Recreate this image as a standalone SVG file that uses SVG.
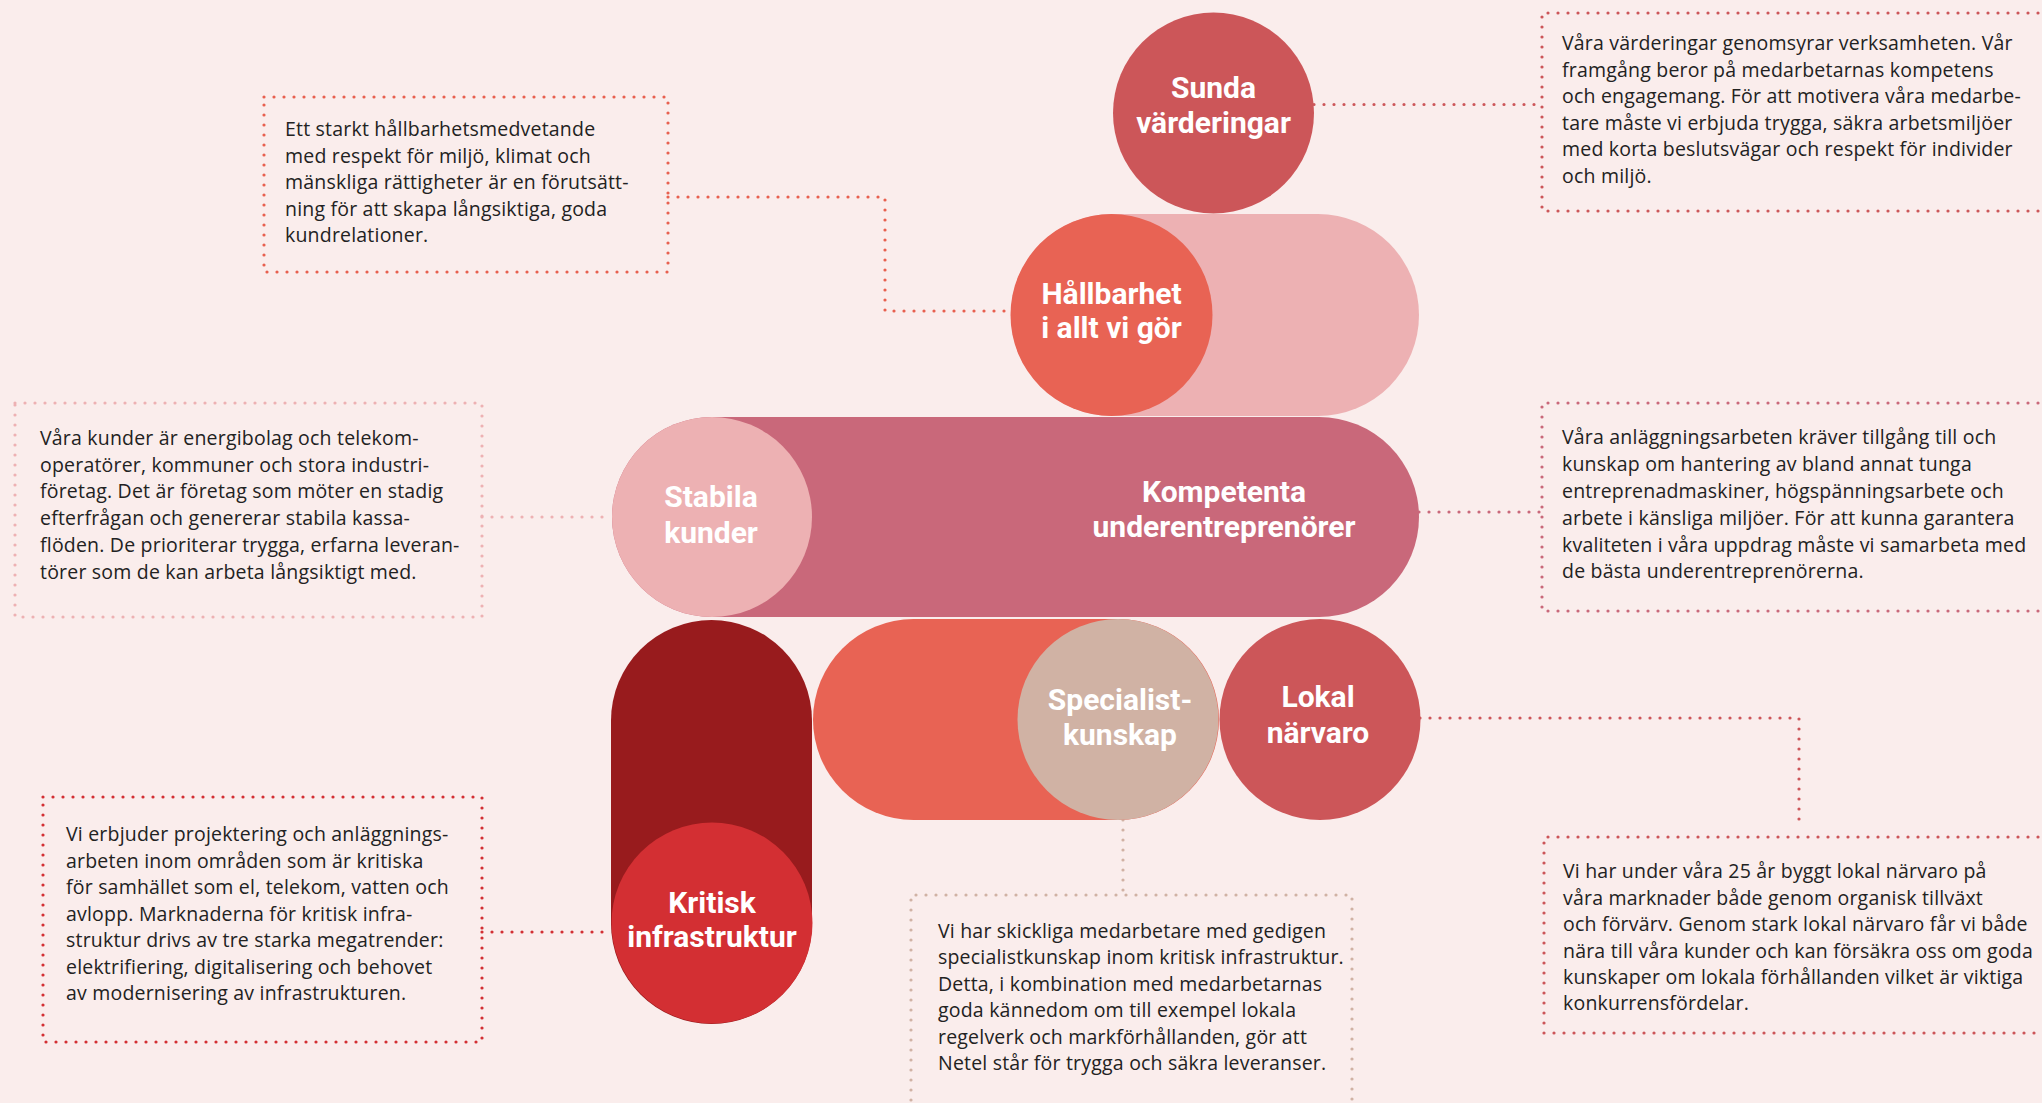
<svg xmlns="http://www.w3.org/2000/svg" width="2042" height="1103" viewBox="0 0 2042 1103">
<style>
.lbl{font-family:Roboto,"Liberation Sans",sans-serif;font-weight:700;font-size:30px;fill:#ffffff;text-anchor:middle}
.body{font-family:"Open Sans","Noto Sans","Liberation Sans",sans-serif;font-size:19.5px;letter-spacing:0.2px;fill:#222222}
.dot{fill:none;stroke-width:3.2;stroke-linecap:round;stroke-dasharray:0 10}
.c-red{stroke:#CC5659}
.c-org{stroke:#E8604F}
.c-pink{stroke:#EDB1B3}
.c-mauve{stroke:#C9687A}
.c-crit{stroke:#D32F33}
.c-tan{stroke:#D0B2A4}
</style>
<rect width="2042" height="1103" fill="#FAEDEC"/>

<g id="connectors">
  <polyline class="dot c-red" points="1314,104.5 1542,104.5"/>
  <polyline class="dot c-org" points="668,197 885,197 885,311 1011,311"/>
  <polyline class="dot c-pink" points="482,517 612,517"/>
  <polyline class="dot c-mauve" points="1419,512 1542,512"/>
  <polyline class="dot c-crit" points="482,932 611,932"/>
  <polyline class="dot c-tan" points="1123,820 1123,895"/>
  <polyline class="dot c-red" points="1420,718 1799,718 1799,822"/>
</g>

<g id="bar-hallbarhet"><rect x="1011" y="214" width="408" height="202" rx="101" fill="#EDB1B3"/></g>
<g id="node-kompetenta">
  <rect x="612" y="417" width="807" height="200" rx="100" fill="#C9687A"/>
  <text class="lbl" x="1224" y="502">Kompetenta</text>
  <text class="lbl" x="1224" y="537">underentreprenörer</text>
</g>
<g id="node-sunda">
  <circle cx="1213.5" cy="113" r="100.5" fill="#CC5659"/>
  <text class="lbl" x="1213.5" y="98">Sunda</text>
  <text class="lbl" x="1213.5" y="133">värderingar</text>
</g>
<g id="node-hallbarhet">
  <circle cx="1111.5" cy="315" r="101" fill="#E86354"/>
  <text class="lbl" x="1111.5" y="304">Hållbarhet</text>
  <text class="lbl" x="1111.5" y="338">i allt vi gör</text>
</g>
<g id="node-stabila">
  <circle cx="712" cy="517" r="100" fill="#EDB1B3"/>
  <text class="lbl" x="711" y="507">Stabila</text>
  <text class="lbl" x="711" y="543">kunder</text>
</g>
<g id="node-kritisk">
  <rect x="611" y="620" width="201" height="404" rx="100.5" fill="#981B1D"/>
  <circle cx="712" cy="923" r="100.5" fill="#D32F33"/>
  <text class="lbl" x="712" y="913">Kritisk</text>
  <text class="lbl" x="712" y="947">infrastruktur</text>
</g>
<g id="node-specialist">
  <rect x="813" y="619" width="406" height="201" rx="100.5" fill="#E86354"/>
  <circle cx="1118" cy="719.5" r="100.5" fill="#D0B2A4"/>
  <text class="lbl" x="1120" y="710">Specialist-</text>
  <text class="lbl" x="1120" y="745">kunskap</text>
</g>
<g id="node-lokal">
  <circle cx="1320" cy="719.5" r="100.5" fill="#CC5659"/>
  <text class="lbl" x="1318" y="707">Lokal</text>
  <text class="lbl" x="1318" y="743">närvaro</text>
</g>

<g id="box-hallbarhet">
  <rect class="dot c-org" x="264" y="97" width="404" height="175"/>
  <text class="body" x="285" y="136">Ett starkt hållbarhetsmedvetande</text>
  <text class="body" x="285" y="162.5">med respekt för miljö, klimat och</text>
  <text class="body" x="285" y="189">mänskliga rättigheter är en förutsätt-</text>
  <text class="body" x="285" y="215.5">ning för att skapa långsiktiga, goda</text>
  <text class="body" x="285" y="242">kundrelationer.</text>
</g>
<g id="box-sunda">
  <polyline class="dot c-red" points="2048,13 1542,13 1542,211 2048,211"/>
  <text class="body" x="1562" y="50">Våra värderingar genomsyrar verksamheten. Vår</text>
  <text class="body" x="1562" y="76.5">framgång beror på medarbetarnas kompetens</text>
  <text class="body" x="1562" y="103">och engagemang. För att motivera våra medarbe-</text>
  <text class="body" x="1562" y="129.5">tare måste vi erbjuda trygga, säkra arbetsmiljöer</text>
  <text class="body" x="1562" y="156">med korta beslutsvägar och respekt för individer</text>
  <text class="body" x="1562" y="182.5">och miljö.</text>
</g>
<g id="box-stabila">
  <rect class="dot c-pink" x="15" y="403" width="467" height="214"/>
  <text class="body" x="40" y="445">Våra kunder är energibolag och telekom-</text>
  <text class="body" x="40" y="471.7">operatörer, kommuner och stora industri-</text>
  <text class="body" x="40" y="498.3">företag. Det är företag som möter en stadig</text>
  <text class="body" x="40" y="525">efterfrågan och genererar stabila kassa-</text>
  <text class="body" x="40" y="552">flöden. De prioriterar trygga, erfarna leveran-</text>
  <text class="body" x="40" y="579">törer som de kan arbeta långsiktigt med.</text>
</g>
<g id="box-kompetenta">
  <polyline class="dot c-mauve" points="2048,403 1542,403 1542,611 2048,611"/>
  <text class="body" x="1562" y="444.3">Våra anläggningsarbeten kräver tillgång till och</text>
  <text class="body" x="1562" y="471">kunskap om hantering av bland annat tunga</text>
  <text class="body" x="1562" y="498">entreprenadmaskiner, högspänningsarbete och</text>
  <text class="body" x="1562" y="525">arbete i känsliga miljöer. För att kunna garantera</text>
  <text class="body" x="1562" y="551.5">kvaliteten i våra uppdrag måste vi samarbeta med</text>
  <text class="body" x="1562" y="578">de bästa underentreprenörerna.</text>
</g>
<g id="box-kritisk">
  <rect class="dot c-crit" x="43" y="797" width="439" height="245"/>
  <text class="body" x="66" y="841">Vi erbjuder projektering och anläggnings-</text>
  <text class="body" x="66" y="867.5">arbeten inom områden som är kritiska</text>
  <text class="body" x="66" y="894">för samhället som el, telekom, vatten och</text>
  <text class="body" x="66" y="920.5">avlopp. Marknaderna för kritisk infra-</text>
  <text class="body" x="66" y="947">struktur drivs av tre starka megatrender:</text>
  <text class="body" x="66" y="973.5">elektrifiering, digitalisering och behovet</text>
  <text class="body" x="66" y="1000">av modernisering av infrastrukturen.</text>
</g>
<g id="box-specialist">
  <polyline class="dot c-tan" points="911,1110 911,895 1352,895 1352,1110"/>
  <text class="body" x="938" y="938">Vi har skickliga medarbetare med gedigen</text>
  <text class="body" x="938" y="964">specialistkunskap inom kritisk infrastruktur.</text>
  <text class="body" x="938" y="990.5">Detta, i kombination med medarbetarnas</text>
  <text class="body" x="938" y="1017">goda kännedom om till exempel lokala</text>
  <text class="body" x="938" y="1043.5">regelverk och markförhållanden, gör att</text>
  <text class="body" x="938" y="1070">Netel står för trygga och säkra leveranser.</text>
</g>
<g id="box-lokal">
  <polyline class="dot c-red" points="2048,837 1544,837 1544,1033 2048,1033"/>
  <text class="body" x="1563" y="878">Vi har under våra 25 år byggt lokal närvaro på</text>
  <text class="body" x="1563" y="904.5">våra marknader både genom organisk tillväxt</text>
  <text class="body" x="1563" y="931">och förvärv. Genom stark lokal närvaro får vi både</text>
  <text class="body" x="1563" y="957.5">nära till våra kunder och kan försäkra oss om goda</text>
  <text class="body" x="1563" y="984">kunskaper om lokala förhållanden vilket är viktiga</text>
  <text class="body" x="1563" y="1010">konkurrensfördelar.</text>
</g>
</svg>
